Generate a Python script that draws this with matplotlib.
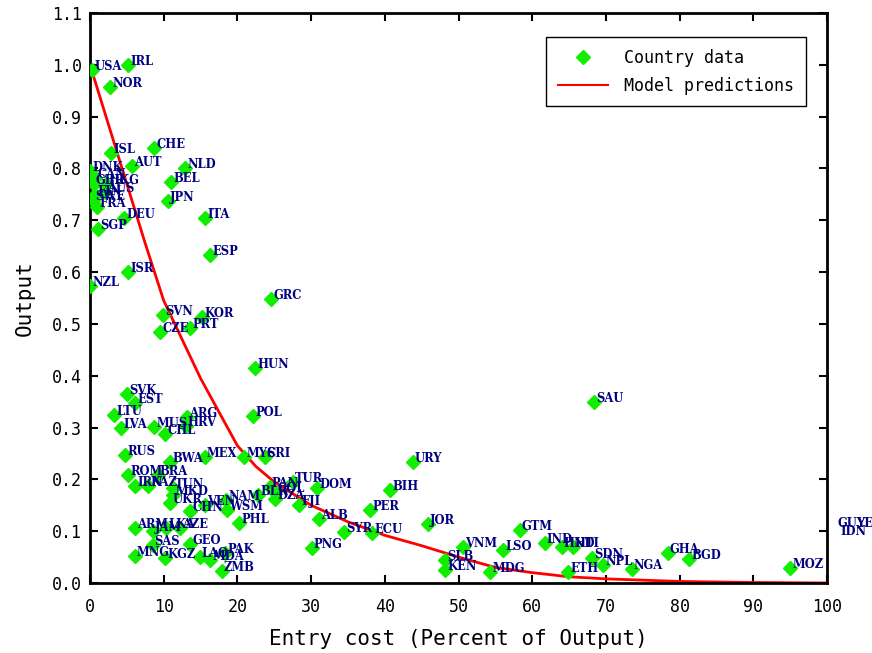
import matplotlib
matplotlib.use("Agg")
import matplotlib.pyplot as plt
from matplotlib.lines import Line2D

countries = ["USA", "IRL", "NOR", "ISL", "CHE", "AUT", "NLD", "BEL", "JPN", "ITA",
             "DEU", "SGP", "DNK", "CAN", "GBR", "HKG", "AUS", "FIN", "SWE", "FRA",
             "NZL", "ISR", "ESP", "GRC", "SVN", "KOR", "PRT", "CZE", "HUN", "SAU",
             "SVK", "EST", "LTU", "LVA", "ARG", "HRV", "POL", "MUS", "CHL", "RUS",
             "BWA", "MEX", "MYS", "CRI", "ROM", "BRA", "IRN", "KAZ", "TUN", "MKD",
             "UKR", "CHN", "VEN", "NAM", "WSM", "PHL", "BLR", "PAN", "COL", "DZA",
             "TUR", "FJI", "DOM", "ALB", "PNG", "SYR", "ECU", "PER", "BIH", "URY",
             "JOR", "SLB", "KEN", "VNM", "MDG", "LSO", "GTM", "IND", "HND", "HTI",
             "ETH", "SDN", "NPL", "NGA", "GHA", "BGD", "MOZ", "GUY", "IDN", "YEM",
             "ARM", "JAM", "LKA", "AZE", "SAS", "GEO", "MNG", "KGZ", "LAO", "MDA",
             "PAK", "ZMB"]
entry_cost = [0.3, 5.2, 2.7, 2.85, 8.7, 5.7, 12.9, 11.0, 10.6, 15.6,
              4.6, 1.1, 0.0, 0.7, 0.5, 2.2, 2.0, 0.7, 0.4, 0.95,
              0.0, 5.2, 16.3, 24.6, 9.9, 15.2, 13.6, 9.5, 22.4, 68.4,
              5.0, 6.1, 3.3, 4.2, 13.2, 13.0, 22.1, 8.7, 10.2, 4.75,
              10.9, 15.6, 20.9, 23.7, 5.2, 9.2, 6.1, 7.9, 11.3, 11.3,
              10.9, 13.6, 15.6, 18.5, 18.6, 20.2, 22.8, 24.4, 25.1, 25.1,
              27.5, 28.4, 30.8, 31.1, 30.1, 34.5, 38.3, 38.0, 40.7, 43.8,
              45.9, 48.2, 48.2, 50.6, 54.3, 56.1, 58.3, 61.7, 64.0, 65.5,
              64.9, 68.1, 69.6, 73.5, 78.4, 81.3, 95.0, 101.1, 101.5, 103.7,
              6.1, 8.5, 10.3, 12.2, 8.5, 13.6, 6.1, 10.2, 14.9, 16.3,
              18.3, 17.9]
output = [0.99, 1.0, 0.957, 0.83, 0.84, 0.805, 0.801, 0.774, 0.737, 0.704,
          0.704, 0.683, 0.795, 0.782, 0.770, 0.770, 0.755, 0.749, 0.739, 0.726,
          0.573, 0.60, 0.633, 0.548, 0.517, 0.513, 0.492, 0.484, 0.415, 0.349,
          0.365, 0.347, 0.324, 0.299, 0.320, 0.303, 0.322, 0.301, 0.288, 0.247,
          0.233, 0.243, 0.243, 0.243, 0.208, 0.208, 0.187, 0.187, 0.183, 0.170,
          0.154, 0.139, 0.150, 0.160, 0.141, 0.116, 0.170, 0.185, 0.176, 0.162,
          0.195, 0.151, 0.183, 0.123, 0.068, 0.098, 0.096, 0.141, 0.180, 0.234,
          0.114, 0.044, 0.025, 0.070, 0.021, 0.064, 0.102, 0.077, 0.070, 0.070,
          0.021, 0.048, 0.035, 0.027, 0.058, 0.046, 0.029, 0.108, 0.093, 0.108,
          0.107, 0.100, 0.106, 0.106, 0.073, 0.075, 0.052, 0.048, 0.050, 0.044,
          0.058, 0.023]

model_x = [0, 2.5, 5, 7.5, 10, 12.5, 15, 17.5, 20, 22.5, 25, 30, 35, 40, 45,
           50, 55, 60, 65, 70, 80, 90, 100]
model_y = [1.0, 0.885, 0.77, 0.655, 0.545, 0.47, 0.395, 0.33, 0.265, 0.225,
           0.195, 0.15, 0.118, 0.092, 0.072, 0.05, 0.03, 0.02, 0.012, 0.008,
           0.003, 0.001, 0.0]

x_ticks = [0, 10, 20, 30, 40, 50, 60, 70, 80, 90, 100]
y_ticks = [0.0, 0.1, 0.2, 0.3, 0.4, 0.5, 0.6, 0.7, 0.8, 0.9, 1.0, 1.1]

mono = "DejaVu Sans Mono"

fig = plt.figure(figsize=(8.72, 6.53), dpi=100)
ax = fig.add_axes([90/872, 70/653, 737/872, 570/653])

ax.plot(model_x, model_y, color="red", lw=2, zorder=2)
ax.plot(entry_cost, output, linestyle="none", marker="D", markersize=7.5,
        color="#11ee00", markeredgecolor="#11ee00", zorder=3)

for name, xv, yv in zip(countries, entry_cost, output):
    ax.annotate(name, (xv, yv), xytext=(1.5, 2.5), textcoords="offset points",
                ha="left", va="center", fontsize=8.3, fontweight="bold",
                family="DejaVu Serif", color="#000080", zorder=4,
                annotation_clip=False)

ax.set_xlim(0, 100)
ax.set_ylim(0, 1.1)
ax.set_xticks(x_ticks)
ax.set_xticklabels([str(t) for t in x_ticks], family=mono, fontsize=12)
ax.set_yticks(y_ticks)
ax.set_yticklabels([f"{t:.1f}" for t in y_ticks], family=mono, fontsize=12)
ax.tick_params(direction="in", length=6, width=1.5, top=True, right=True)
ax.tick_params(axis="x", pad=11)
ax.tick_params(axis="y", pad=6)
for s in ax.spines.values():
    s.set_linewidth(2)

ax.set_xlabel("Entry cost (Percent of Output)", family=mono, fontsize=15, labelpad=9)
ax.set_ylabel("Output", family=mono, fontsize=15, labelpad=12)

handles = [Line2D([], [], linestyle="none", marker="D", markersize=7.5,
                  color="#11ee00"),
           Line2D([], [], color="red", lw=1.5)]
leg = ax.legend(handles, ["Country data", "Model predictions"],
                loc="upper right", bbox_to_anchor=(0.9715, 0.958),
                borderaxespad=0, fancybox=False, framealpha=1,
                edgecolor="black", handlelength=3, handletextpad=1.0,
                labelspacing=0.6, borderpad=0.7,
                prop={"family": mono, "size": 12})
leg.get_frame().set_linewidth(1)

fig.savefig("out.png", dpi=100)
